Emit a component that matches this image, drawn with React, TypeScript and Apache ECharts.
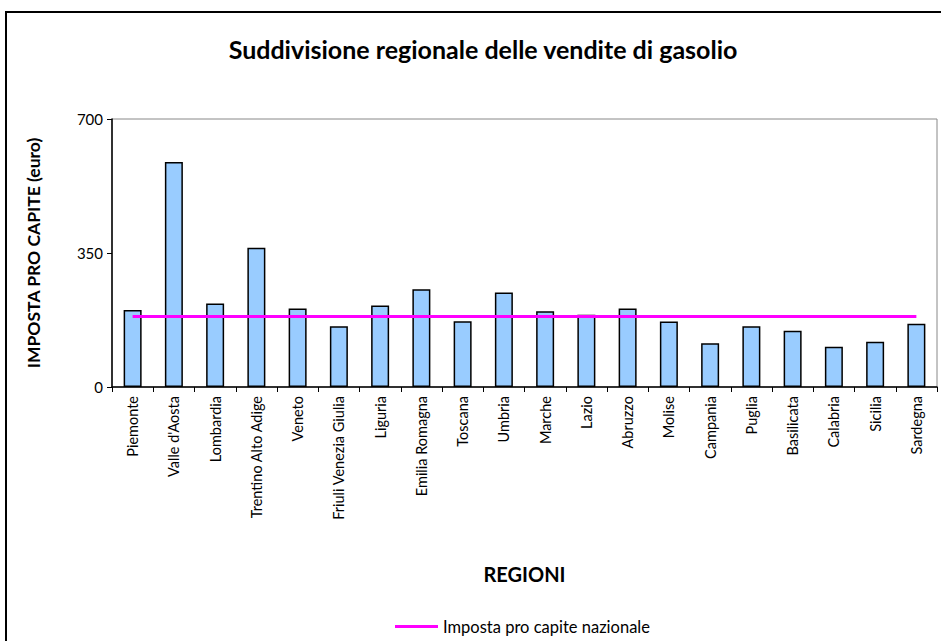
import React, { useEffect, useRef } from "react";
import * as echarts from "echarts";

const categories = [
  "Piemonte", "Valle d'Aosta", "Lombardia", "Trentino Alto Adige", "Veneto",
  "Friuli Venezia Giulia", "Liguria", "Emilia Romagna", "Toscana", "Umbria",
  "Marche", "Lazio", "Abruzzo", "Molise", "Campania", "Puglia", "Basilicata",
  "Calabria", "Sicilia", "Sardegna",
];
const regionalValues = [201, 588, 218, 364, 205, 159, 213, 255, 172, 247, 198, 189, 205, 171, 114, 159, 147, 105, 118, 165];
const nationalValue = [184, 184, 184, 184, 184, 184, 184, 184, 184, 184, 184, 184, 184, 184, 184, 184, 184, 184, 184, 184];
const yTicks = [0, 350, 700];

const FONT = "Lato";

export default function App() {
  const ref = useRef<HTMLDivElement>(null);
  useEffect(() => {
    if (!ref.current) return;
    const chart = echarts.init(ref.current, undefined, { renderer: "svg" });
    chart.setOption({
      animation: false,
      backgroundColor: "#fff",
      textStyle: { fontFamily: FONT, color: "#000" },
      title: {
        text: "Suddivisione regionale delle vendite di gasolio",
        left: 478,
        textAlign: "center",
        top: 31,
        textStyle: { fontFamily: FONT, fontWeight: "bold", fontSize: 25, color: "#000" },
      },
      graphic: [
        {
          type: "rect",
          shape: { x: 6, y: 12, width: 950, height: 650 },
          style: { fill: "none", stroke: "#000", lineWidth: 2 },
          silent: true,
        },
      ],
      grid: {
        left: 112, top: 119, right: 4, bottom: 254,
        show: true, borderColor: "#888", borderWidth: 1,
      },
      legend: {
        data: [{ name: "Imposta pro capite nazionale", icon: "rect" }],
        left: 390,
        top: 613,
        itemWidth: 43,
        itemHeight: 3,
        itemGap: 5,
        textStyle: { fontFamily: FONT, fontSize: 16.5, color: "#000" },
      },
      xAxis: {
        type: "category",
        data: categories,
        name: "REGIONI",
        nameLocation: "middle",
        nameGap: 177,
        nameTextStyle: { fontFamily: FONT, fontWeight: "bold", fontSize: 20, color: "#000" },
        axisLine: { lineStyle: { color: "#000", width: 1.5 } },
        axisTick: { show: true, length: 5, lineStyle: { color: "#000" } },
        axisLabel: { rotate: 90, fontSize: 14.5, color: "#000", fontFamily: FONT, margin: 9, interval: 0 },
      },
      yAxis: {
        type: "value",
        min: 0,
        max: 700,
        interval: 350,
        name: "IMPOSTA PRO CAPITE (euro)",
        nameLocation: "middle",
        nameGap: 70,
        nameTextStyle: { fontFamily: FONT, fontWeight: "bold", fontSize: 17.5, color: "#000" },
        axisLine: { show: true, lineStyle: { color: "#000", width: 1.5 } },
        axisTick: { show: true, length: 5, lineStyle: { color: "#000" } },
        axisLabel: { fontSize: 15, color: "#000", fontFamily: FONT, margin: 9,
          formatter: (v: number) => (yTicks.includes(v) ? String(v) : "") },
        splitLine: { show: false },
      },
      series: [
        {
          type: "bar",
          name: "Imposta regionale",
          data: regionalValues,
          barWidth: 18,
          itemStyle: { color: "#99ccff", borderColor: "#000", borderWidth: 1.5 },
        },
        {
          type: "line",
          name: "Imposta pro capite nazionale",
          data: nationalValue,
          showSymbol: false,
          symbol: "none",
          lineStyle: { color: "#ff00ff", width: 3 },
          itemStyle: { color: "#ff00ff" },
        },
      ],
    });
    return () => chart.dispose();
  }, []);
  return <div ref={ref} style={{ position: "absolute", left: 0, top: 0, width: 941, height: 641 }} />;
}
